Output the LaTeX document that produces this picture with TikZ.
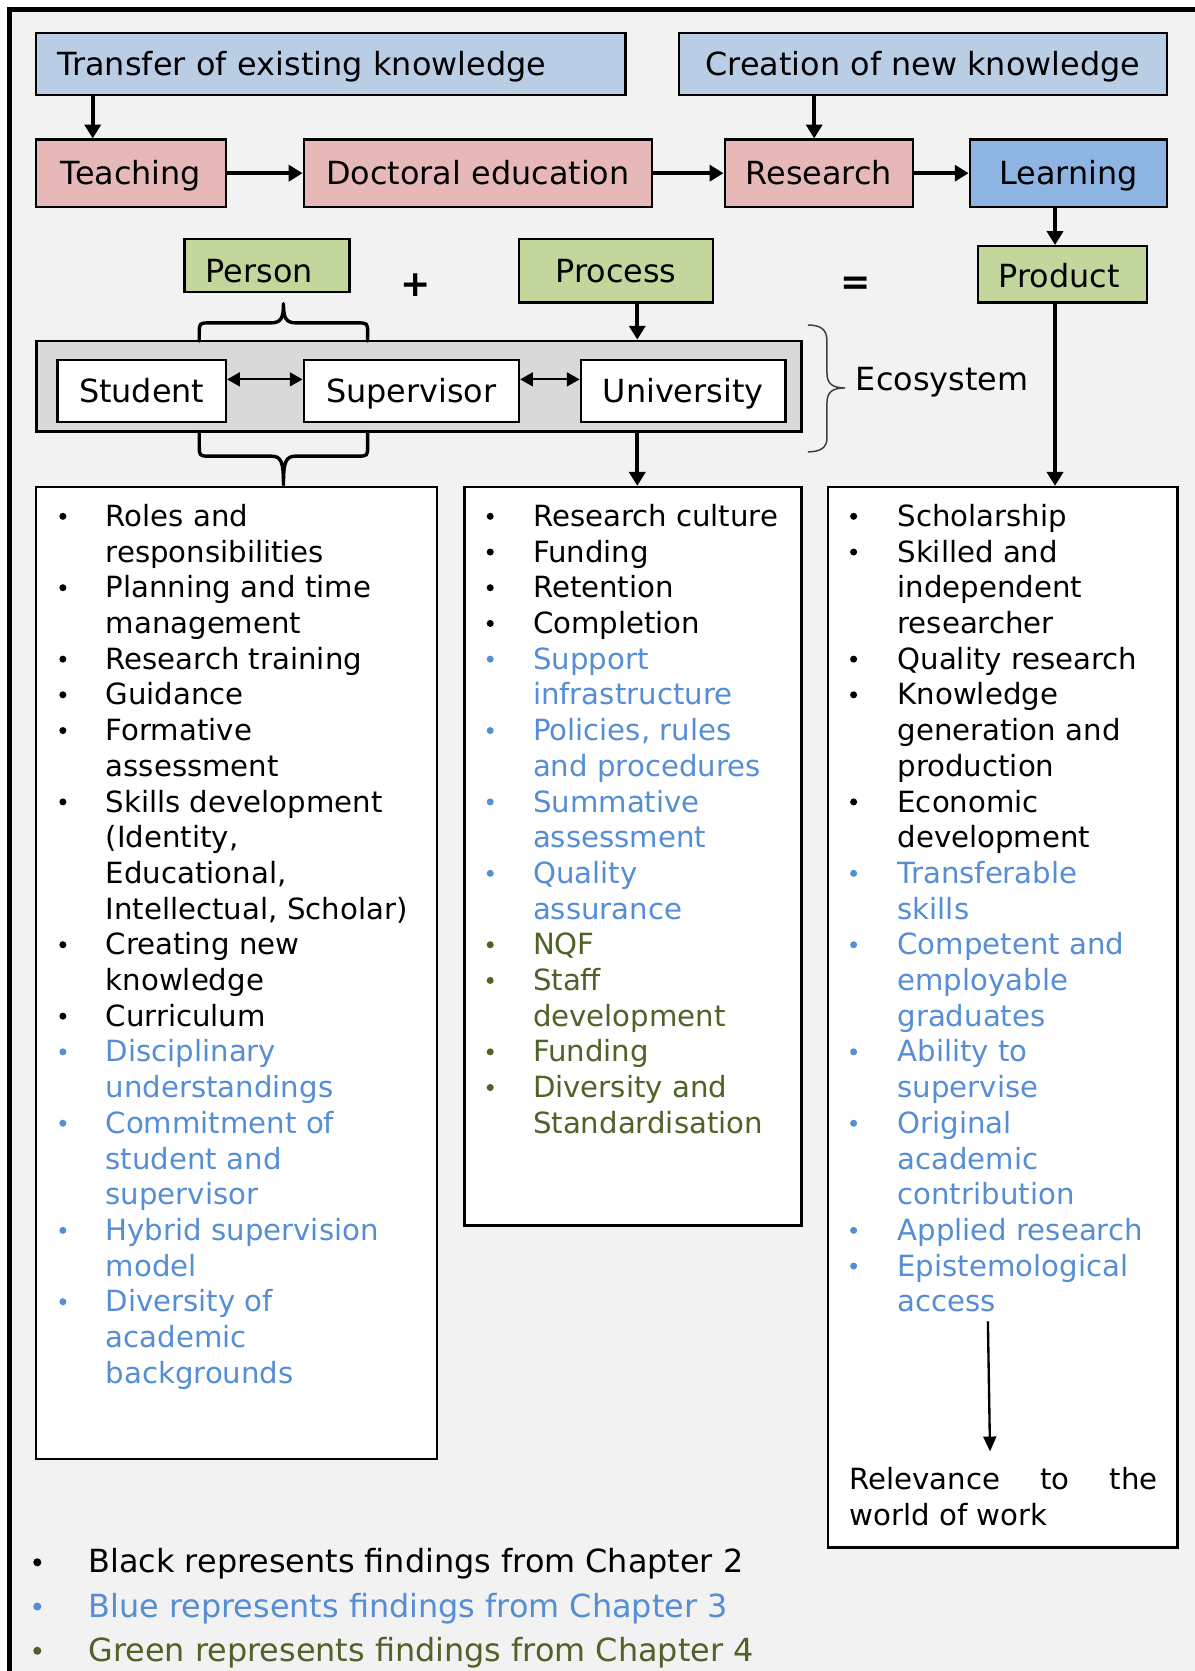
\documentclass[tikz,border=0pt]{standalone}
\usepackage{fontspec}
\setmainfont{DejaVu Sans}
\usetikzlibrary{arrows.meta}
\definecolor{bgpanel}{HTML}{F2F2F2}
\definecolor{hdrblue}{HTML}{B9CDE5}
\definecolor{rosefill}{HTML}{E6B9B8}
\definecolor{learnblue}{HTML}{8EB4E3}
\definecolor{sagefill}{HTML}{C3D69B}
\definecolor{ecogray}{HTML}{D9D9D9}
\definecolor{ck}{HTML}{000000}
\definecolor{cb}{HTML}{558ED5}
\definecolor{cg}{HTML}{4F6228}
\newcommand\hdrsize{\fontsize{29.9}{35.9}\selectfont}
\newcommand\lstsize{\fontsize{27.4}{33.5}\selectfont}

\begin{document}
\begin{tikzpicture}[x=1pt,y=-1pt,
  hbox/.style={draw, line width=2.2pt, inner sep=0pt, font=\hdrsize,
               text height=21.8pt, text depth=0pt},
  listbox/.style={draw, line width=2.2pt, fill=white, inner sep=0pt},
  arr/.style={line width=3.4pt, -{Triangle[length=13pt,width=15pt]}},
  dbl/.style={line width=2pt,
              {Triangle[length=12pt,width=13pt]}-{Triangle[length=12pt,width=13pt]}},
  brc/.style={line width=3.2pt, line join=round, line cap=round},
  ltext/.style={inner sep=0pt, anchor=base west, font=\lstsize},
]
\useasboundingbox (0,0) rectangle (1121,1568);

% page and framed panel
\fill[white] (0,0) rectangle (1121,1568);
\fill[bgpanel] (9,9) rectangle (1121,1568);
\draw[line width=4pt] (9,1572) -- (9,9) -- (1125,9);

% top row: sources of knowledge
\node[hbox, fill=hdrblue, align=left, inner xsep=20pt, text width=513pt,
      minimum height=58pt] (transfer) at (310.5,60) {Transfer of existing knowledge};
\node[hbox, fill=hdrblue, minimum width=458pt, minimum height=58pt]
      (creation) at (866,60) {Creation of new knowledge};

% second row: activities
\node[hbox, fill=rosefill, minimum width=178pt, minimum height=63pt] (teach) at (123,162.5) {Teaching};
\node[hbox, fill=rosefill, minimum width=327pt, minimum height=63pt] (doctoral) at (448.5,162.5) {Doctoral education};
\node[hbox, fill=rosefill, minimum width=177pt, minimum height=63pt] (research) at (768.5,162.5) {Research};
\node[hbox, fill=learnblue, minimum width=185pt, minimum height=63pt] (learning) at (1002.5,162.5) {Learning};

% person + process = product
\node[hbox, fill=sagefill, align=left, inner xsep=20pt, text width=115pt, text height=31.8pt,
      minimum height=50pt] (person) at (250.5,249) {Person};
\node[hbox, fill=sagefill, minimum width=182pt, minimum height=60pt] (process) at (578,254) {Process};
\node[hbox, fill=sagefill, align=left, inner xsep=19pt, text width=120pt, text height=25pt,
      minimum height=53pt] (product) at (997,257.5) {Product};
\node[font=\fontsize{34}{40}\selectfont\bfseries, inner sep=0pt] (plus) at (390,268) {+};
\node[font=\fontsize{34}{40}\selectfont\bfseries, inner sep=0pt] (equals) at (803,268) {=};

% ecosystem
\node[draw, line width=2.6pt, fill=ecogray, minimum width=718pt, minimum height=85pt,
      inner sep=0pt] (ecobox) at (393,362.5) {};
\node[hbox, fill=white, minimum width=158pt, minimum height=58pt] (student) at (133,367) {Student};
\node[hbox, fill=white, minimum width=202pt, minimum height=58pt] (supervisor) at (386,367) {Supervisor};
\node[hbox, fill=white, minimum width=192pt, minimum height=58pt] (university) at (641,367) {University};
\draw[dbl] ([yshift=11pt]student.east) -- ([yshift=11pt]supervisor.west);
\draw[dbl] ([yshift=11pt]supervisor.east) -- ([yshift=11pt]university.west);

\draw[line width=1.4pt, draw=black!75]
  (758,305) .. controls (770,305) and (776,309) .. (776,320) -- (776,350)
  .. controls (776,360) and (781,364) .. (793,364)
  .. controls (781,364) and (776,368) .. (776,378) -- (776,411)
  .. controls (776,420) and (770,424) .. (758,424);
\node[font=\hdrsize, inner sep=0pt, anchor=base west] (ecolabel) at (803,366) {Ecosystem};

% braces grouping student and supervisor
\draw[brc] (187,320) -- (187,313) .. controls (187,303) .. (197,303) -- (254,303)
  .. controls (264,303) and (266,298) .. (266,285)
  .. controls (266,298) and (268,303) .. (278,303) -- (335,303)
  .. controls (345,303) .. (345,313) -- (345,320);
\draw[brc] (187,405) -- (187,418) .. controls (187,428) .. (197,428) -- (254,428)
  .. controls (264,428) and (266,433) .. (266,455)
  .. controls (266,433) and (268,428) .. (278,428) -- (335,428)
  .. controls (345,428) .. (345,418) -- (345,405);

% list panels
\node[listbox, minimum width=376pt, minimum height=912pt] (personlist) at (222,913) {};
\node[listbox, minimum width=316pt, minimum height=693pt] (processlist) at (594,803.5) {};
\node[listbox, minimum width=328pt, minimum height=995pt] (productlist) at (941,954.5) {};

% connectors
\coordinate (colA) at (87,0);
\coordinate (colB) at (764,0);
\coordinate (colC) at (990,0);
\coordinate (colD) at (598,0);
\draw[arr] (transfer.south -| colA) -- (teach.north -| colA);
\draw[arr] (creation.south -| colB) -- (research.north -| colB);
\draw[arr] (teach) -- (doctoral);
\draw[arr] (doctoral) -- (research);
\draw[arr] (research) -- (learning);
\draw[arr] (learning.south -| colC) -- (product.north -| colC);
\draw[arr] (product.south -| colC) -- (productlist.north -| colC);
\draw[arr] (process.south -| colD) -- (ecobox.north -| colD);
\draw[arr] (ecobox.south -| colD) -- (processlist.north -| colD);

% person list
\foreach \cl/\bu/\tx [count=\idx from 0] in {
  ck/1/Roles and,
  ck/0/responsibilities,
  ck/1/Planning and time,
  ck/0/management,
  ck/1/Research training,
  ck/1/Guidance,
  ck/1/Formative,
  ck/0/assessment,
  ck/1/Skills development,
  ck/0/{(Identity,},
  ck/0/{Educational,},
  ck/0/{Intellectual, Scholar)},
  ck/1/Creating new,
  ck/0/knowledge,
  ck/1/Curriculum,
  cb/1/Disciplinary,
  cb/0/understandings,
  cb/1/Commitment of,
  cb/0/student and,
  cb/0/supervisor,
  cb/1/Hybrid supervision,
  cb/0/model,
  cb/1/Diversity of,
  cb/0/academic,
  cb/0/backgrounds}{
  \node[ltext, text=\cl] (pl\idx) at (99,{494+33.5*\idx}) {\tx};
  \ifnum\bu=1 \fill[\cl] (59,{484.5+33.5*\idx}) circle (3.3pt); \fi
}

% process list
\foreach \cl/\bu/\tx [count=\idx from 0] in {
  ck/1/Research culture,
  ck/1/Funding,
  ck/1/Retention,
  ck/1/Completion,
  cb/1/Support,
  cb/0/infrastructure,
  cb/1/{Policies, rules},
  cb/0/and procedures,
  cb/1/Summative,
  cb/0/assessment,
  cb/1/Quality,
  cb/0/assurance,
  cg/1/NQF,
  cg/1/Staff,
  cg/0/development,
  cg/1/Funding,
  cg/1/Diversity and,
  cg/0/Standardisation}{
  \node[ltext, text=\cl] (ml\idx) at (500,{494+33.5*\idx}) {\tx};
  \ifnum\bu=1 \fill[\cl] (460,{484.5+33.5*\idx}) circle (3.3pt); \fi
}

% product list
\foreach \cl/\bu/\tx [count=\idx from 0] in {
  ck/1/Scholarship,
  ck/1/Skilled and,
  ck/0/independent,
  ck/0/researcher,
  ck/1/Quality research,
  ck/1/Knowledge,
  ck/0/generation and,
  ck/0/production,
  ck/1/Economic,
  ck/0/development,
  cb/1/Transferable,
  cb/0/skills,
  cb/1/Competent and,
  cb/0/employable,
  cb/0/graduates,
  cb/1/Ability to,
  cb/0/supervise,
  cb/1/Original,
  cb/0/academic,
  cb/0/contribution,
  cb/1/Applied research,
  cb/1/Epistemological,
  cb/0/access}{
  \node[ltext, text=\cl] (rl\idx) at (842,{494+33.5*\idx}) {\tx};
  \ifnum\bu=1 \fill[\cl] (801,{484.5+33.5*\idx}) circle (3.3pt); \fi
}

% outcome at the foot of the product list
\coordinate (relTop) at (927,1240);
\coordinate (relTip) at (929,1362);
\draw[line width=2.2pt, -{Triangle[length=14pt,width=12pt]}] (relTop) -- (relTip);
\node[ltext] (relevance) at (797,1398) {\makebox[289pt][s]{Relevance to the}};
\node[ltext] (worldwork) at (797,1431.5) {world of work};

% colour key
\foreach \cl/\yy/\tx [count=\idx from 0] in {
  ck/1476/Black represents findings from Chapter 2,
  cb/1517.5/Blue represents findings from Chapter 3,
  cg/1559/Green represents findings from Chapter 4}{
  \node[inner sep=0pt, anchor=base west, font=\hdrsize, text=\cl] (key\idx) at (83,\yy) {\tx};
  \fill[\cl] (35,{\yy-10}) circle (3.8pt);
}
\end{tikzpicture}
\end{document}
